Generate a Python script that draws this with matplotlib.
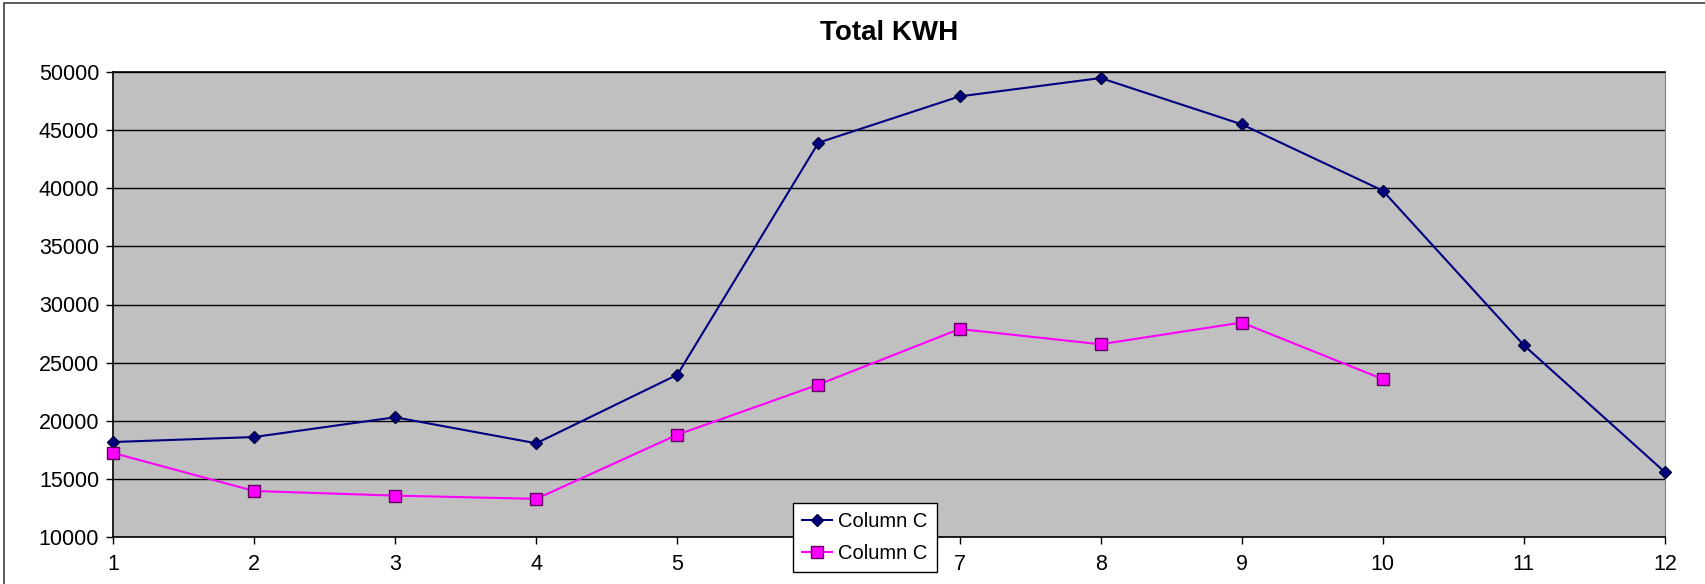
import matplotlib
matplotlib.use("Agg")
import matplotlib.pyplot as plt
from matplotlib.patches import Rectangle

plt.rcParams['font.family'] = ['Liberation Sans', 'DejaVu Sans']

x_blue = [1, 2, 3, 4, 5, 6, 7, 8, 9, 10, 11, 12]
blue = [18170, 18600, 20300, 18060, 23960, 43920, 47900, 49480, 45500, 39790, 26490, 15570]
x_pink = [1, 2, 3, 4, 5, 6, 7, 8, 9, 10]
pink = [17230, 13960, 13560, 13280, 18800, 23110, 27890, 26580, 28450, 23580]
yticks = [10000, 15000, 20000, 25000, 30000, 35000, 40000, 45000, 50000]
title = "Total KWH"
labels = ["Column C", "Column C"]

W, H = 1705, 584
fig = plt.figure(figsize=(W / 100, H / 100), dpi=100)
left, right, top, bottom = 113, 1665, 72, 537
ax = fig.add_axes([left / W, 1 - bottom / H, (right - left) / W, (bottom - top) / H])
ax.set_facecolor('#C0C0C0')

ax.plot(x_blue, blue, color='#000080', lw=1.5, marker='D', ms=6,
        mfc='#000080', mec='#000040', label=labels[0], zorder=4, clip_on=False)
ax.plot(x_pink, pink, color='#FF00FF', lw=1.5, marker='s', ms=8,
        mfc='#FF00FF', mec='#600060', mew=1.0, label=labels[1], zorder=4, clip_on=False)

ax.set_xlim(1, 12)
ax.set_ylim(10000, 50000)
ax.set_yticks(yticks)
ax.set_yticklabels([str(v) for v in yticks])
ax.set_xticks(range(1, 13))
ax.yaxis.grid(True, color='black', lw=1.0)
ax.set_axisbelow(True)
ax.tick_params(axis='both', direction='out', length=5, width=1, labelsize=15.5, colors='black')
ax.tick_params(axis='x', pad=7)
ax.tick_params(axis='y', pad=5)
for s in ['left', 'bottom', 'top']:
    ax.spines[s].set_color('black')
    ax.spines[s].set_linewidth(1.2)
ax.spines['right'].set_color('#808080')

fig.text(0.5 * (left + right) / W, 1 - 33 / H, title, ha='center', va='center',
         fontsize=20, fontweight='bold')

leg = ax.legend(loc='upper left', bbox_to_anchor=((793 - left) / (right - left), 1 - (503 - top) / (bottom - top)),
                frameon=True, fancybox=False, edgecolor='black', framealpha=1,
                fontsize=14.5, handlelength=1.5, handletextpad=0.3, borderpad=0.45,
                labelspacing=0.65, borderaxespad=0)
leg.get_frame().set_linewidth(1.0)
leg.set_zorder(10)

fig.patches.append(Rectangle((4 / W, -0.1), 2, 1 - 3 / H + 0.1, transform=fig.transFigure,
                             fill=False, edgecolor='#404040', lw=1.2))

fig.savefig('out.png', dpi=100, facecolor='white')
